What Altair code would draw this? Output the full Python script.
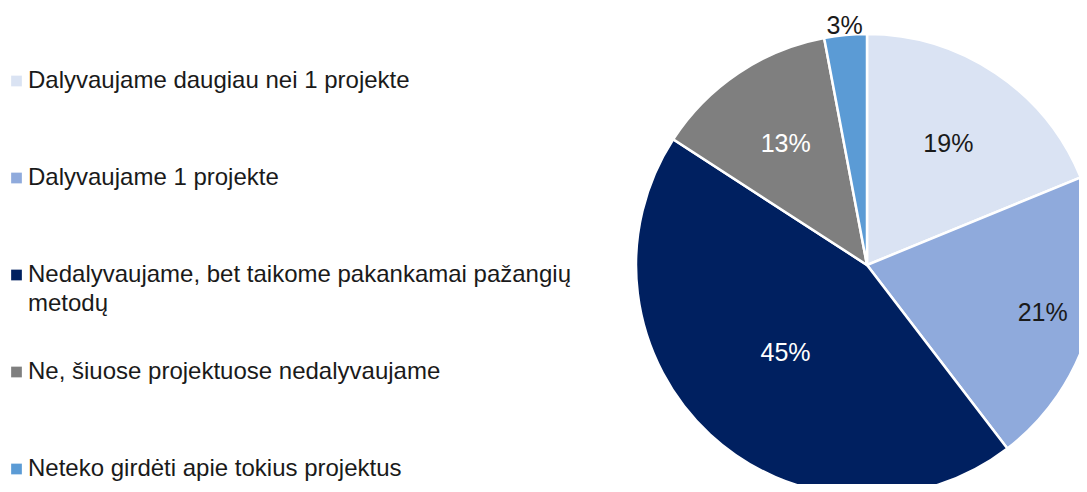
import altair as alt
import pandas as pd

categories = [
    "Dalyvaujame daugiau nei 1 projekte",
    "Dalyvaujame 1 projekte",
    "Nedalyvaujame, bet taikome pakankamai pažangių\nmetodų",
    "Ne, šiuose projektuose nedalyvaujame",
    "Neteko girdėti apie tokius projektus",
]
values = [19, 21, 45, 13, 3]
colors = ["#DAE3F3", "#8FAADC", "#002060", "#7F7F7F", "#5B9BD5"]
label_colors = ["#1a1a1a", "#1a1a1a", "#ffffff", "#ffffff", "#1a1a1a"]

df = pd.DataFrame({
    "cat": categories,
    "value": values,
    "idx": list(range(len(categories))),
    "lab": [f"{v}%" for v in values],
    "lcol": label_colors,
})

FONT = "Liberation Sans"
CX, CY, R = 859, 257, 231

color_scale = alt.Scale(domain=categories, range=colors)

base = alt.Chart(df)

pie = base.mark_arc(stroke="white", strokeWidth=2.5, outerRadius=R).encode(
    theta=alt.Theta("value:Q", stack=True),
    order=alt.Order("idx:Q"),
    color=alt.Color("cat:N", scale=color_scale, legend=None),
    x=alt.value(CX),
    y=alt.value(CY),
)

labels = base.transform_joinaggregate(
    total="sum(value)"
).transform_window(
    cum="sum(value)", sort=[alt.SortField("idx")], frame=[None, 0]
).transform_calculate(
    mid="(datum.cum - datum.value / 2) / datum.total * 2 * PI",
    r="datum.value < 5 ? 240 : (datum.value > 40 ? 120 : (datum.value > 20 ? 182 : 146))",
).mark_text(font=FONT, fontSize=25, baseline="middle", align="center").encode(
    theta=alt.Theta("mid:Q", scale=None, stack=None),
    radius=alt.Radius("r:Q", scale=None),
    text="lab:N",
    color=alt.Color("lcol:N", scale=None),
    x=alt.value(CX),
    y=alt.value(CY),
)

ypos = alt.Y(
    "cat:N",
    scale=alt.Scale(type="point", domain=categories, range=[80, 468], padding=0),
    axis=None,
)

leg_sq = base.mark_square(size=115, opacity=1, yOffset=-7).encode(
    x=alt.value(8.5),
    y=ypos,
    color=alt.Color("cat:N", scale=color_scale, legend=None),
)

leg_txt = base.mark_text(
    font=FONT, fontSize=24, align="left", baseline="alphabetic",
    lineBreak="\n", lineHeight=29, color="#1a1a1a",
).encode(
    x=alt.value(20),
    y=ypos,
    text="cat:N",
)

chart = alt.layer(pie, labels, leg_sq, leg_txt).properties(
    width=1071, height=476, padding=0, background="white",
    autosize=alt.AutoSizeParams(type="none"),
).configure_view(strokeWidth=0)

chart.save("out.html", embed_options={"renderer": "svg", "actions": False})
